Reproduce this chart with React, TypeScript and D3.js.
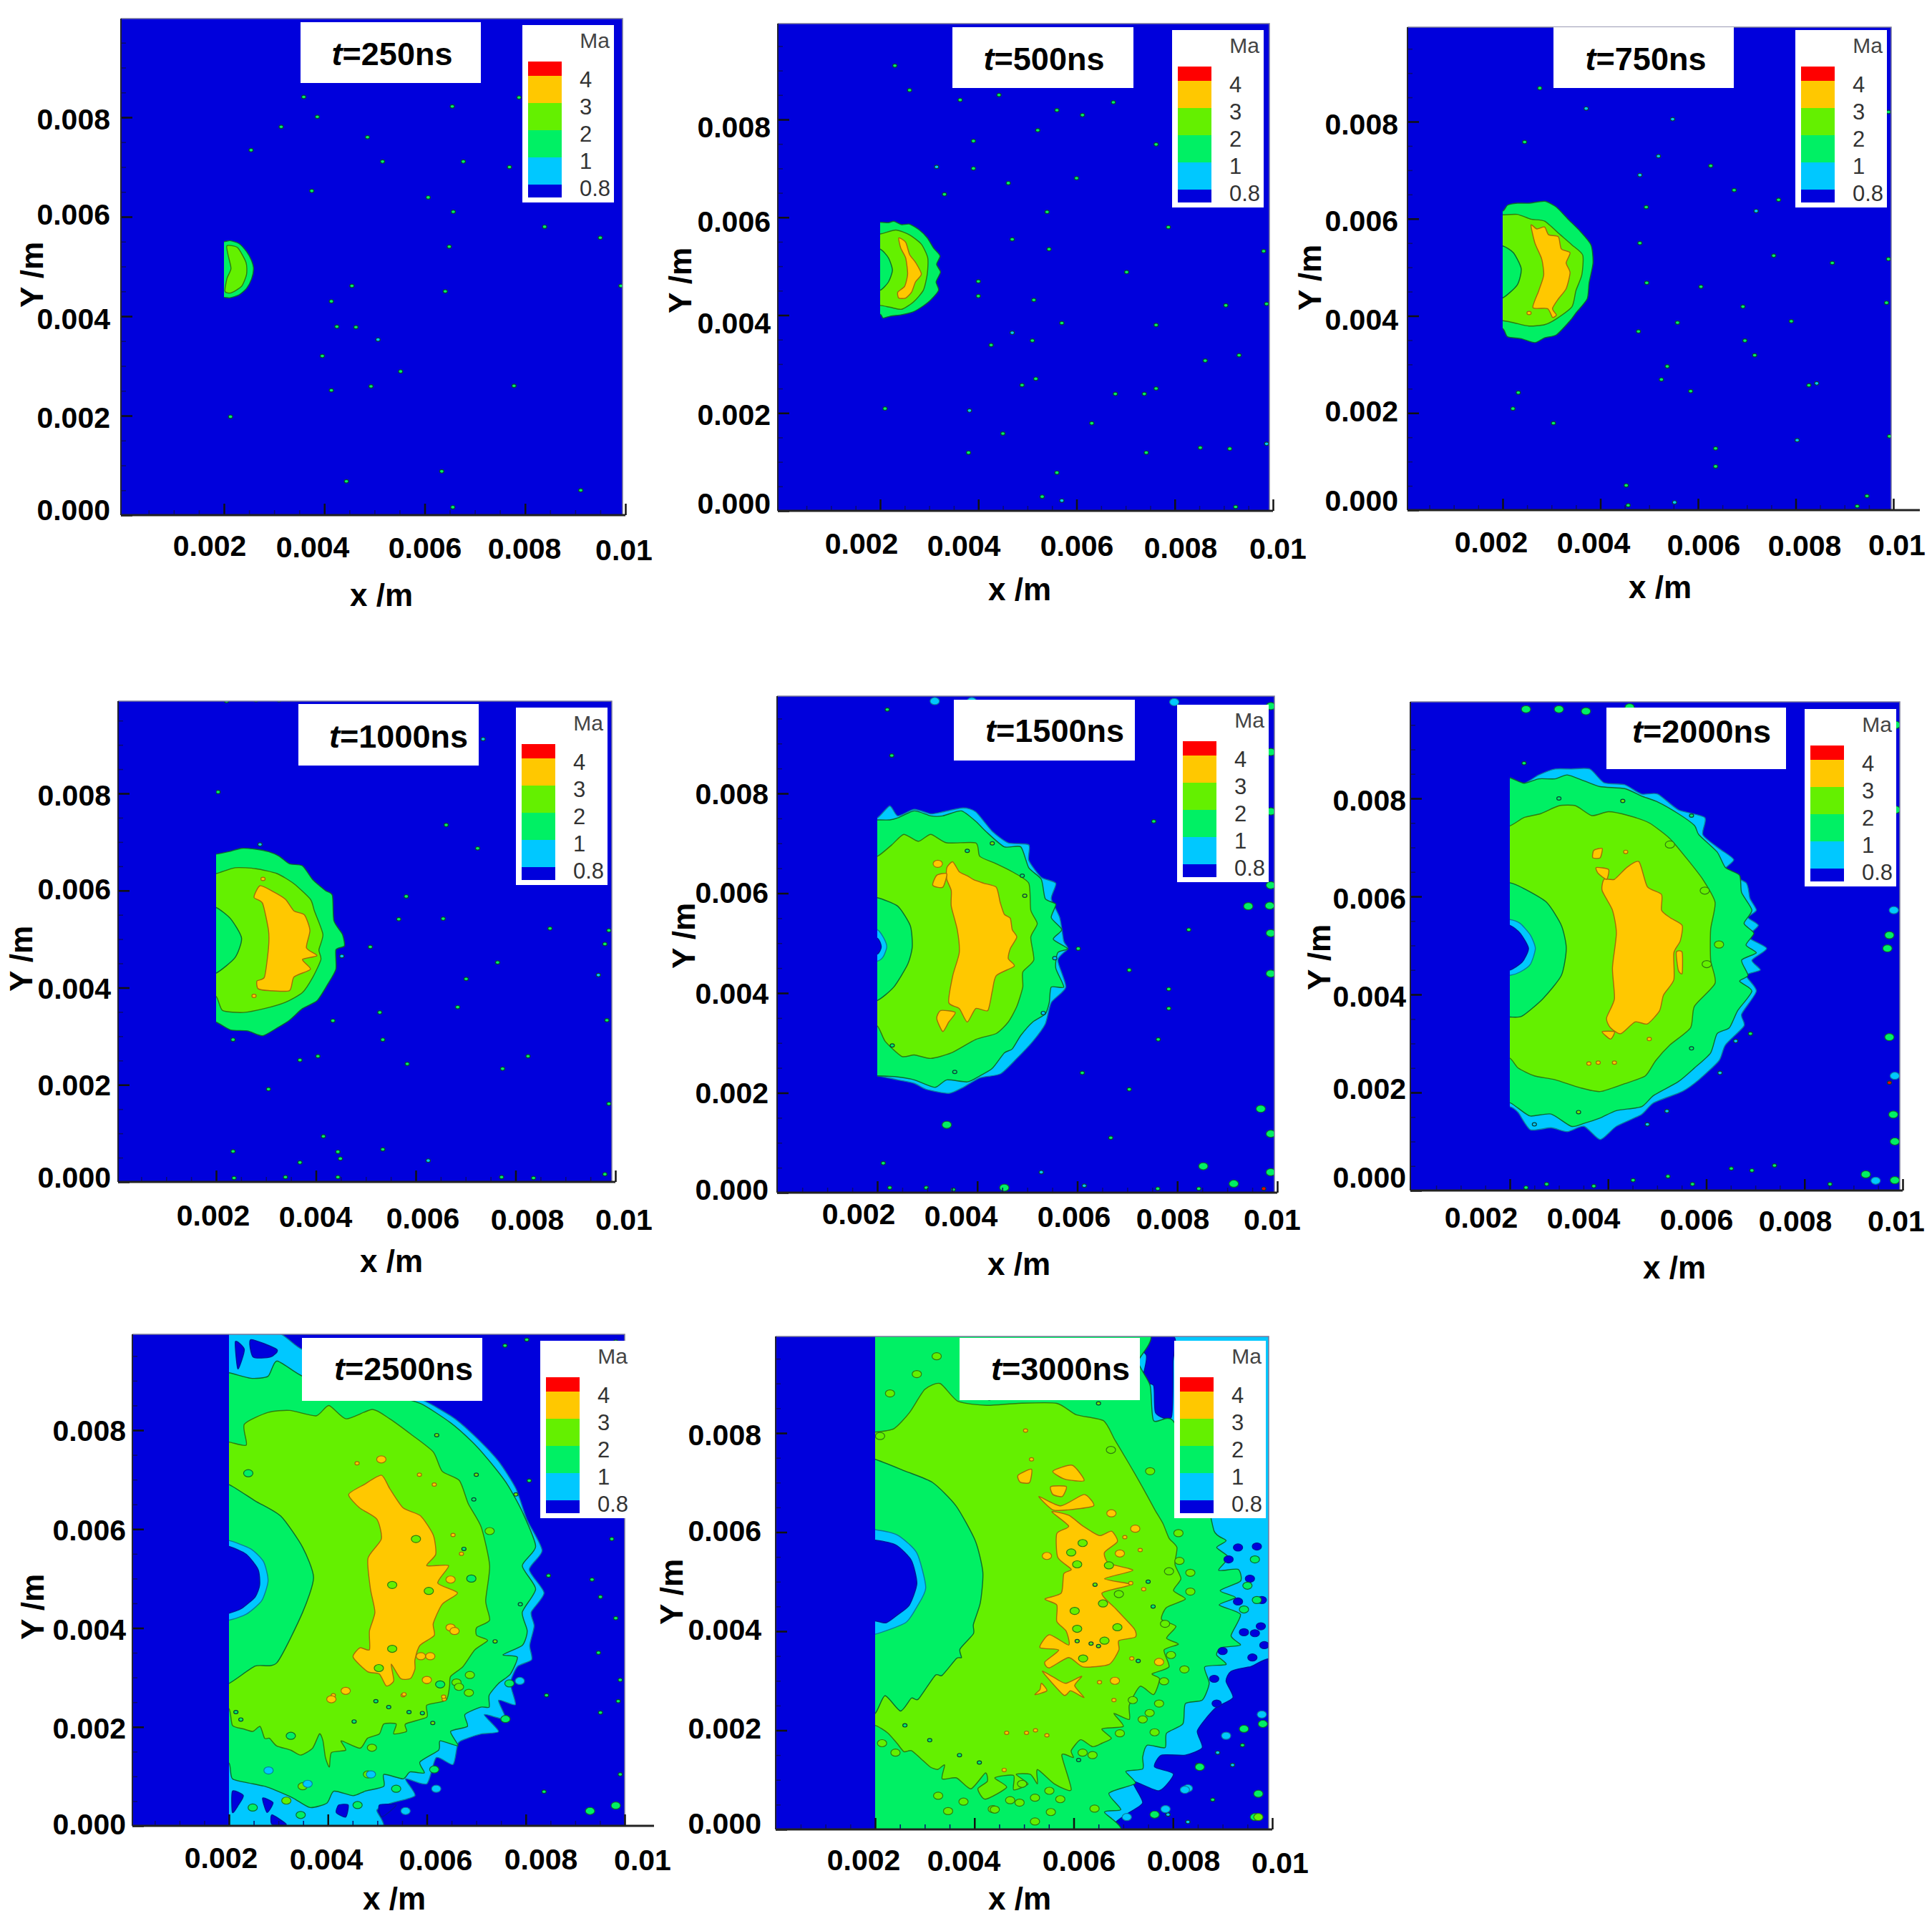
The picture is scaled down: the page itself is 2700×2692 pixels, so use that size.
import React, { useEffect, useRef } from 'react';
import * as d3 from 'd3';

type Pt = number[];
type Region = [number, Pt[]];

// Ma bands, index 0 is the free-stream blue
const maColors = ['#0000dc', '#00c8ff', '#00f064', '#64f000', '#ffc800', '#ff0000'];
const maStrokes = ['#00149a', '#0a7f9a', '#0c6a2c', '#2f7a10', '#a36c08', '#a00000'];
const legendLabels = ['4', '3', '2', '1', '0.8'];
const xTickValues = [0.002, 0.004, 0.006, 0.008, 0.01];
const xTickLabels = ['0.002', '0.004', '0.006', '0.008', '0.01'];
const yTickValues = [0, 0.002, 0.004, 0.006, 0.008];
const yTickLabels = ['0.000', '0.002', '0.004', '0.006', '0.008'];
const xMinorValues = [0.0005, 0.001, 0.0015, 0.0025, 0.003, 0.0035, 0.0045, 0.005, 0.0055, 0.0065, 0.007, 0.0075, 0.0085, 0.009, 0.0095];
const yMinorValues = [0.0005, 0.001, 0.0015, 0.0025, 0.003, 0.0035, 0.0045, 0.005, 0.0055, 0.0065, 0.007, 0.0075, 0.0085, 0.009, 0.0095];

// contour regions in mm, level is the index into maColors, painted in order
const regions250: Region[] = [
  [2, [[2, 5.5], [2.12, 5.52], [2.3, 5.46], [2.45, 5.3], [2.55, 5.12], [2.59, 4.95], [2.55, 4.75], [2.45, 4.56], [2.3, 4.43], [2.12, 4.37], [2, 4.38]]],
  [3, [[2.06, 5.42], [2.27, 5.38], [2.44, 5.08], [2.45, 4.84], [2.35, 4.6], [2.14, 4.47], [2.02, 4.5], [2.06, 4.76], [2.14, 4.96], [2.08, 5.24]]],
];
const specks250: Pt[] = [[3.59, 8.41], [3.86, 8.01], [3.14, 7.81], [4.86, 7.6], [5.16, 7.11], [6.77, 7.11], [7.69, 7], [7.88, 8.4], [6.55, 8.22], [6.07, 6.39], [6.57, 6.1], [8.39, 5.8], [9.5, 5.58], [6.49, 5.4], [6.41, 4.5], [9.91, 4.61], [4.55, 4.61], [4.14, 4.3], [4.25, 3.79], [4.63, 3.78], [5.07, 3.53, 1], [3.96, 3.2], [5.52, 2.89], [4.93, 2.59], [4.14, 2.51], [7.78, 2.6], [2.13, 1.98], [6.34, 0.88], [6.56, 0.16], [9.11, 0.5], [4.44, 0.68], [3.75, 6.52], [2.54, 7.34]];

const regions500: Region[] = [
  [2, [[2, 5.9], [2.17, 5.89], [2.28, 5.92], [2.44, 5.85], [2.6, 5.86], [2.8, 5.74], [2.96, 5.58], [3.09, 5.37], [3.22, 5.21], [3.15, 5.04], [3.23, 4.88], [3.14, 4.68], [3.19, 4.51], [3.03, 4.31], [2.88, 4.19], [2.68, 4.07], [2.44, 4.01], [2.21, 3.98], [2.06, 3.94], [2, 4.02]]],
  [3, [[2, 5.66], [2.32, 5.74], [2.6, 5.64], [2.84, 5.45], [2.97, 5.17], [2.96, 4.84], [2.88, 4.51], [2.68, 4.27], [2.44, 4.12], [2.21, 4.16], [2, 4.2]]],
  [2, [[2, 5.35], [2.17, 5.17], [2.25, 4.92], [2.17, 4.68], [2, 4.51]]],
  [4, [[2.38, 5.58], [2.52, 5.49], [2.6, 5.24], [2.72, 5.08], [2.84, 4.84], [2.72, 4.68], [2.64, 4.47], [2.52, 4.35], [2.38, 4.35], [2.36, 4.47], [2.5, 4.59], [2.56, 4.84], [2.52, 5.17], [2.42, 5.37]]],
];
const specks500: Pt[] = [[2.6, 8.6], [2.3, 9.1], [3.63, 8.4], [4.42, 8.5], [6.75, 8.35], [5.6, 8.19], [6.12, 8.09], [5.21, 7.78], [3.9, 7.56], [3.15, 7.03, 1], [3.9, 7], [3.31, 6.47], [4.61, 6.7], [6, 6.8], [5.4, 6.11], [4.69, 5.55], [5.44, 5.35], [4, 4.69], [4, 4.39], [5.13, 4.31], [5.7, 3.84], [4.69, 3.64, 1], [5.1, 3.48], [4.26, 3.39], [7.62, 3.8], [8.62, 3.07], [7.38, 2.39], [7.62, 2.5], [6.79, 2.39], [5.17, 2.7], [4.89, 2.57], [3.82, 2.05, 1], [2.1, 2.09], [6.31, 1.79], [4.5, 1.58], [3.8, 1.19], [7.42, 1.19], [8.52, 1.29], [9.12, 1.27], [5.6, 0.78], [9.87, 4.23], [9.87, 1.37, 1], [9.24, 0.08], [5.7, 0.21, 1], [5.3, 0.29], [7.02, 4.88], [7.87, 5.8], [7.62, 7.49], [9.81, 5.31], [9.04, 4.2], [9.31, 3.18]];

const regions750: Region[] = [
  [2, [[2, 6.16], [2.1, 6.28], [2.3, 6.32], [2.54, 6.32], [2.86, 6.36], [3.1, 6.24], [3.34, 5.99], [3.58, 5.75], [3.81, 5.46], [3.85, 5.09], [3.77, 4.68], [3.73, 4.35], [3.5, 4.06], [3.38, 3.9], [3.1, 3.61], [2.86, 3.55], [2.66, 3.45], [2.38, 3.53], [2.1, 3.57], [2, 3.74]]],
  [3, [[2, 6.08], [2.3, 6.09], [2.58, 5.99], [2.86, 5.95], [3.18, 5.67], [3.42, 5.46], [3.64, 5.25], [3.62, 4.84], [3.5, 4.52], [3.42, 4.19], [3.1, 3.94], [2.86, 3.82], [2.54, 3.79], [2.22, 3.86], [2, 3.9]]],
  [2, [[2, 5.44], [2.22, 5.3], [2.38, 4.97], [2.3, 4.64], [2, 4.37]]],
  [4, [[2.58, 5.87], [2.7, 5.79], [2.86, 5.83], [2.94, 5.67], [3.14, 5.63], [3.2, 5.38], [3.38, 5.3], [3.3, 5.09], [3.38, 4.89], [3.3, 4.56], [3.14, 4.35], [3.02, 4.15], [3.1, 4.02], [3.02, 3.97], [2.92, 4.15], [2.62, 4.17], [2.74, 4.52], [2.84, 4.84], [2.8, 5.17], [2.66, 5.5]]],
];
const specks750: Pt[] = [[3.71, 8.27, 1], [5.48, 8.05, 1], [2.76, 8.69], [2.45, 7.58], [5.19, 7.29, 1], [4.81, 6.9, 1], [6.74, 6.59], [7.65, 6.39], [7.19, 6.16, 1], [4.94, 6.24], [4.81, 5.5], [4.95, 4.68], [7.55, 5.24], [8.75, 5.09], [6.06, 4.6], [5.58, 3.86], [4.78, 3.68], [6.96, 3.49], [7.16, 3.19], [7.91, 3.89], [5.37, 2.96], [5.25, 2.69], [5.85, 2.45], [8.43, 2.61, 1], [8.27, 2.57], [2.32, 2.42], [2.21, 2.09], [3.04, 1.79], [6.36, 1.27], [6.36, 0.9], [8.03, 1.44, 1], [4.53, 0.51], [4.57, 0.1], [5.52, 0.16, 1], [9.26, 0.08], [9.46, 0.29], [6.26, 7.09], [6.92, 4.19], [9.9, 8.2], [9.9, 5.17], [9.86, 4.27], [9.92, 1.52], [2.54, 4.06, 4]];

const regions1000: Region[] = [
  [2, [[2, 6.75], [2.29, 6.81], [2.51, 6.87], [2.8, 6.85], [3.05, 6.8], [3.26, 6.71], [3.47, 6.55], [3.73, 6.51], [3.94, 6.22], [4.19, 6], [4.33, 5.9], [4.36, 5.38], [4.53, 5.1], [4.57, 4.86], [4.4, 4.78], [4.4, 4.38], [4.23, 4.06], [4.02, 3.73], [3.73, 3.57], [3.47, 3.33], [3.22, 3.17], [2.93, 3.01], [2.63, 3.11], [2.29, 3.13], [2, 3.29]]],
  [3, [[2, 6.35], [2.38, 6.47], [2.8, 6.45], [3.22, 6.35], [3.56, 6.14], [3.89, 5.82], [3.97, 5.58], [4.14, 5.1], [4.06, 4.78], [4.1, 4.58], [3.94, 4.22], [3.73, 3.9], [3.39, 3.7], [2.97, 3.57], [2.55, 3.49], [2.13, 3.53], [2, 3.82]]],
  [2, [[2, 5.65], [2.29, 5.42], [2.51, 5.02], [2.38, 4.62], [2, 4.3]]],
  [4, [[2.88, 6.1], [3.14, 5.98], [3.39, 5.82], [3.56, 5.58], [3.77, 5.5], [3.88, 5.18], [3.81, 4.82], [4.02, 4.66], [3.73, 4.58], [3.89, 4.38], [3.56, 4.22], [3.47, 3.94], [3.05, 3.94], [2.84, 3.98], [2.82, 4.14], [2.97, 4.22], [3.05, 4.82], [3.05, 5.18], [2.93, 5.74], [2.76, 5.86]]],
];
const specks1000: Pt[] = [[2.88, 6.95, 1], [7.35, 9.12, 1], [2.04, 8.03], [6.61, 7.35], [7.24, 6.87], [5.81, 5.88], [5.66, 5.41], [6.55, 5.42], [8.69, 5.22], [5.09, 4.84], [7.64, 4.52], [7.01, 4.18], [9.66, 4.26, 1], [6.84, 3.6], [5.28, 3.49], [4.34, 3.32], [2.34, 2.93], [5.34, 2.93], [8.25, 2.59], [3.68, 2.51], [4.04, 2.59], [5.83, 2.43], [7.74, 2.33], [3.05, 1.91], [4.15, 0.94], [2.34, 0.63], [4.44, 0.62], [5.34, 0.67], [6.25, 0.44, 1], [3.68, 0.4], [4.49, 0.48], [2.36, 0.08], [3.39, 0.1], [4.44, 0.1], [7.72, 0.1], [8.36, 0.08], [9.79, 0.16], [2.21, 9.9], [2.8, 9.92], [3.26, 9.92], [9.83, 3.33], [9.87, 1.61], [9.87, 5.18], [9.79, 4.9], [2.76, 3.83, 4], [2.94, 6.24, 4], [4.52, 4.65, 1]];

const regions1500: Region[] = [
  [1, [[2, 7.51], [2.25, 7.75], [2.41, 7.55], [2.74, 7.68], [3.07, 7.59], [3.31, 7.63], [3.72, 7.71], [3.97, 7.63], [4.3, 7.24], [4.62, 7.01], [5.03, 6.97], [5.03, 6.66], [5.28, 6.32], [5.57, 6.2], [5.48, 5.89], [5.65, 5.51], [5.73, 5.04], [5.81, 4.89], [5.61, 4.66], [5.77, 4.12], [5.48, 3.81], [5.36, 3.38], [5.11, 3.03], [4.79, 2.69], [4.46, 2.38], [4.05, 2.3], [3.72, 2.11], [3.43, 1.99], [2.98, 2.07], [2.74, 2.19], [2.41, 2.26], [2, 2.34]]],
  [2, [[2, 7.47], [2.25, 7.47], [2.41, 7.51], [2.74, 7.65], [3.07, 7.55], [3.31, 7.55], [3.68, 7.65], [3.97, 7.44], [4.17, 7.24], [4.54, 6.93], [4.87, 6.93], [5.03, 6.51], [5.28, 6.28], [5.36, 5.89], [5.57, 5.78], [5.48, 5.51], [5.69, 5.27], [5.52, 5.08], [5.81, 4.89], [5.61, 4.81], [5.57, 4.5], [5.73, 4.12], [5.48, 4.12], [5.44, 3.81], [5.36, 3.58], [5.11, 3.42], [4.87, 3.15], [4.7, 2.88], [4.54, 2.8], [4.3, 2.49], [4.05, 2.34], [3.8, 2.22], [3.39, 2.26], [3.15, 2.11], [2.74, 2.26], [2.41, 2.32], [2, 2.34]]],
  [3, [[2, 6.74], [2.29, 6.97], [2.53, 7.18], [2.82, 7.04], [3.07, 7.18], [3.39, 7.01], [3.97, 7.01], [4.05, 6.74], [4.38, 6.59], [4.7, 6.43], [5.03, 6.2], [5.07, 5.66], [5.2, 5.39], [5.07, 5.12], [5.13, 4.66], [4.91, 4.42], [4.91, 4.12], [4.79, 3.73], [4.62, 3.42], [4.38, 3.19], [3.97, 3.07], [3.48, 2.8], [3.07, 2.69], [2.74, 2.76], [2.49, 2.73], [2.16, 3.03], [2, 3.34]]],
  [2, [[2, 5.91], [2.41, 5.74], [2.66, 5.35], [2.7, 4.93], [2.61, 4.58], [2.33, 4.12], [2, 3.85]]],
  [1, [[2, 5.27], [2.12, 5.12], [2.19, 4.93], [2.12, 4.73], [2, 4.64]]],
  [0, [[2, 5.1], [2.08, 4.93], [2, 4.78]]],
  [4, [[3.39, 6.51], [3.51, 6.63], [3.64, 6.43], [3.8, 6.35], [3.93, 6.27], [4.13, 6.2], [4.38, 6.12], [4.46, 5.81], [4.54, 5.58], [4.66, 5.5], [4.7, 5.27], [4.79, 5.12], [4.66, 4.89], [4.62, 4.69], [4.74, 4.54], [4.38, 4.35], [4.3, 4.04], [4.21, 3.65], [3.97, 3.69], [3.8, 3.42], [3.64, 3.69], [3.43, 3.81], [3.51, 4.35], [3.64, 4.81], [3.6, 5.27], [3.48, 5.74], [3.48, 6.05], [3.39, 6.28]]],
  [4, [[3.27, 3.65], [3.56, 3.61], [3.43, 3.42], [3.31, 3.23], [3.19, 3.49]]],
  [4, [[3.19, 6.36], [3.39, 6.39], [3.31, 6.12], [3.11, 6.16]]],
];
const specks1500: Pt[] = [[7.04, 4.46], [8.23, 5.27], [7.83, 4.08], [7.62, 3.07], [7.83, 3.69], [7.04, 2.07], [6.67, 1.1], [6.02, 4.89], [2.29, 8.76], [2.2, 9.68], [7.53, 7.44], [2.12, 0.59], [6.1, 2.4], [5.28, 0.41, 1], [2.98, 0.1], [2.25, 0.1], [3.52, 0.06], [6.14, 0.14, 1], [7.61, 0.08], [8.43, 0.08], [9.73, 0.08, 5], [5.55, 4.7, 1], [5.32, 3.6, 1], [4.3, 7.0, 3], [4.95, 5.95, 3], [4.9, 6.35, 2], [3.8, 6.85, 2], [2.3, 2.95, 2], [3.55, 2.42, 2]];
const islands1500: Pt[] = [[3.21, 6.59, 4], [9.42, 5.74], [9.85, 5.75], [9.87, 5.2], [9.87, 4.39], [9.67, 1.68], [9.87, 1.18], [9.13, 0.18], [9.87, 0.41], [8.52, 0.53], [4.54, 0.1], [9.87, 8.83], [9.87, 7.64], [9.87, 6.16], [3.15, 9.85, 1], [3.89, 9.85, 1], [7.94, 9.83, 1], [9.87, 9.75], [3.39, 1.36]];

const regions2000: Region[] = [
  [1, [[2, 8.42], [2.29, 8.31], [2.59, 8.48], [2.92, 8.6], [3.25, 8.6], [3.63, 8.6], [3.92, 8.32], [4.34, 8.28], [4.68, 8.09], [5.01, 8.09], [5.43, 7.77], [5.97, 7.61], [5.93, 7.26], [6.26, 6.98], [6.56, 6.75], [6.35, 6.51], [6.81, 6.28], [6.89, 5.96], [7.02, 5.72], [6.85, 5.57], [7.06, 5.41], [6.85, 5.17], [7.23, 4.94], [6.93, 4.7], [7.1, 4.5], [6.81, 4.39], [7.02, 4.07], [6.72, 3.6], [6.77, 3.36], [6.39, 2.97], [6.26, 2.65], [5.85, 2.26], [5.51, 2.02], [4.93, 1.79], [4.68, 1.55], [4.17, 1.31], [3.84, 1.04], [3.51, 1.31], [3.17, 1.2], [2.84, 1.28], [2.42, 1.24], [2.17, 1.59], [2, 1.71]]],
  [2, [[2, 8.42], [2.29, 8.31], [2.59, 8.4], [2.92, 8.4], [3.17, 8.48], [3.51, 8.36], [3.84, 8.24], [4.34, 8.2], [4.68, 8.05], [5.01, 7.93], [5.43, 7.69], [5.76, 7.45], [5.85, 7.26], [6.22, 6.91], [6.39, 6.59], [6.68, 6.43], [6.72, 6.08], [6.93, 5.72], [6.77, 5.45], [6.97, 5.25], [6.81, 5.01], [7.02, 4.85], [6.72, 4.7], [6.85, 4.39], [6.68, 4.27], [6.93, 4.07], [6.64, 3.67], [6.47, 3.32], [6.22, 3.2], [6.09, 2.81], [5.76, 2.5], [5.43, 2.22], [4.93, 1.94], [4.68, 1.71], [4.17, 1.63], [3.84, 1.48], [3.51, 1.37], [3.25, 1.31], [2.84, 1.56], [2.42, 1.52], [2.17, 1.68], [2, 1.79]]],
  [3, [[2, 7.44], [2.29, 7.61], [2.63, 7.69], [3, 7.85], [3.34, 7.85], [3.67, 7.65], [4.01, 7.73], [4.42, 7.65], [4.84, 7.5], [5.26, 7.18], [5.59, 6.79], [5.93, 6.35], [6.18, 5.88], [6.09, 5.33], [6.09, 4.7], [6.18, 4.23], [5.76, 3.76], [5.68, 3.32], [5.26, 2.97], [4.97, 2.65], [4.76, 2.34], [4.34, 2.18], [3.84, 2.02], [3.42, 2.1], [2.92, 2.26], [2.5, 2.34], [2.17, 2.5], [2, 2.7]]],
  [2, [[2, 6.28], [2.29, 6.16], [2.75, 5.88], [3.05, 5.41], [3.15, 4.94], [3.05, 4.39], [2.67, 3.91], [2.25, 3.56], [2, 3.54]]],
  [1, [[2, 5.53], [2.21, 5.45], [2.42, 5.21], [2.52, 4.94], [2.42, 4.62], [2.21, 4.46], [2, 4.39]]],
  [0, [[2, 5.41], [2.21, 5.25], [2.38, 4.94], [2.25, 4.66], [2, 4.5]]],
  [4, [[3.92, 6.35], [4.13, 6.35], [4.38, 6.59], [4.63, 6.71], [4.8, 6.2], [5.09, 6.04], [5.09, 5.72], [5.26, 5.57], [5.51, 5.41], [5.47, 5.09], [5.34, 4.85], [5.34, 4.3], [5.13, 3.99], [5.05, 3.67], [4.8, 3.4], [4.55, 3.44], [4.26, 3.2], [4.05, 3.32], [3.97, 3.52], [4.13, 3.91], [4.09, 4.54], [4.17, 5.25], [4.09, 5.72], [3.88, 6.12]]],
  [4, [[3.71, 6.94], [3.88, 6.98], [3.84, 6.79], [3.69, 6.79]]],
  [4, [[3.76, 6.59], [4.01, 6.55], [3.97, 6.35], [3.8, 6.47]]],
  [4, [[3.88, 3.24], [4.13, 3.24], [4.05, 3.09]]],
  [4, [[5.39, 4.86], [5.51, 4.86], [5.51, 4.43], [5.43, 4.5]]],
];
const specks2000: Pt[] = [[3.61, 2.59, 4], [3.8, 2.61, 4], [7.39, 0.51], [6.51, 0.45], [6.93, 0.41], [2.29, 8.72], [4.36, 6.91, 4], [4.84, 3.09, 4], [4.13, 2.61, 4], [9.73, 2.2, 5], [2.33, 0.06], [3.71, 0.09], [2.75, 0.13], [4.51, 0.21], [5.72, 0.13], [8.52, 0.13], [5.22, 0.29], [6.6, 3.05, 1], [6.9, 3.2, 2], [3.0, 8.0, 2], [4.3, 7.95, 3], [5.7, 7.65, 2], [3.4, 1.6, 3], [2.5, 1.35, 1], [5.7, 2.9, 2], [6.28, 2.4, 1], [5.2, 1.62, 1], [4.8, 1.35, 1]];
const islands2000: Pt[] = [[6.26, 5.02, 3], [6.01, 4.62, 3], [5.97, 6.12, 3], [5.26, 7.06, 3], [9.82, 5.72, 1], [9.73, 5.21], [9.69, 4.94], [9.73, 3.13], [9.84, 2.34, 1], [9.81, 1.55], [9.84, 1], [9.25, 0.33], [9.84, 0.21], [2.33, 9.82], [3, 9.82], [3.55, 9.78], [4.44, 9.86], [9.86, 9.5], [9.86, 7.77], [9.45, 0.2, 1]];

const regions2500: Region[] = [
  [1, [[2, 9.98], [2.97, 9.98], [3.49, 9.63], [4.37, 9.48], [5.25, 9.24], [5.78, 8.7], [6.13, 8.5], [6.57, 8.23], [7.01, 7.84], [7.45, 7.37], [7.8, 6.82], [8.02, 6.2], [8.33, 5.57], [8.07, 5.18], [8.37, 4.71], [8.11, 4.32], [8.17, 4.04], [8.08, 3.65], [8.12, 3.36], [7.83, 3.22], [7.69, 2.88], [7.79, 2.45], [7.45, 2.54], [7.59, 2.16], [7.16, 2.25], [7.45, 1.91], [7.11, 1.86], [6.82, 1.77], [6.63, 1.67], [6.53, 1.24], [6.19, 1.38], [6, 0.85], [5.57, 0.95], [5.76, 0.61], [5.28, 0.46], [4.99, 0.32], [4.99, -0.1], [2, -0.1]]],
  [0, [[2.44, 9.83], [2.97, 9.63], [2.84, 9.48], [2.49, 9.48]]],
  [0, [[2.13, 9.79], [2.31, 9.63], [2.18, 9.24]]],
  [0, [[2.07, 0.7], [2.29, 0.61], [2.19, 0.42], [2.07, 0.27]]],
  [0, [[2.68, 0.56], [2.89, 0.47], [2.77, 0.27]]],
  [0, [[4.22, 0.42], [4.41, 0.42], [4.36, 0.18], [4.17, 0.27]]],
  [0, [[5.04, 0.42], [5.38, 0.42], [5.09, 0.18]]],
  [0, [[2.87, 0.22], [3.16, 0.03], [2.87, 0.03]]],
  [2, [[2, 9.16], [2.44, 9.05], [2.79, 9.09], [2.97, 9.4], [3.49, 9.09], [4.37, 8.85], [5.25, 8.7], [5.87, 8.54], [6.48, 8.15], [6.92, 7.76], [7.27, 7.37], [7.63, 6.9], [7.93, 6.35], [8.2, 5.65], [7.93, 5.26], [8.2, 4.79], [7.93, 4.32], [8.03, 3.94], [7.93, 3.65], [7.54, 3.46], [7.83, 3.41], [7.69, 3.07], [7.45, 2.88], [7.26, 2.64], [7.26, 2.4], [7.09, 2.4], [6.77, 2.25], [6.82, 2.01], [6.48, 1.91], [6.63, 1.62], [6.27, 1.72], [6.24, 1.53], [5.86, 1.29], [5.95, 1.07], [5.66, 1.09], [5.52, 0.95], [5.13, 1.04], [5.13, 0.8], [4.75, 0.7], [4.51, 0.61], [4.12, 0.7], [3.98, 0.46], [3.64, 0.37], [3.3, 0.56], [2.96, 0.71], [2.72, 0.8], [2.48, 0.85], [2.07, 0.95], [2, 1.27]]],
  [3, [[2, 7.76], [2.35, 7.7], [2.31, 8.12], [2.79, 8.36], [3.23, 8.4], [3.76, 8.29], [4.02, 8.5], [4.37, 8.23], [4.9, 8.42], [5.25, 8.23], [5.69, 7.91], [6.13, 7.56], [6.31, 7.17], [6.66, 6.98], [6.84, 6.51], [7.1, 6.04], [7.27, 5.26], [7.19, 4.55], [7.27, 4.16], [7.01, 4.01], [7.01, 3.85], [7.23, 3.75], [6.97, 3.56], [6.73, 3.22], [6.48, 3.02], [6.46, 2.83], [6.39, 2.54], [6, 2.44], [6, 2.2], [5.57, 2.06], [5.59, 1.91], [5.33, 1.86], [5.38, 2.06], [5.13, 2.06], [5.04, 1.86], [4.8, 1.77], [4.65, 1.57], [4.27, 1.72], [4.36, 1.53], [4.07, 1.48], [4.03, 1.19], [3.95, 1.38], [3.9, 1.72], [3.83, 1.86], [3.69, 1.57], [3.45, 1.43], [3.25, 1.53], [2.96, 1.62], [2.82, 1.77], [2.72, 1.77], [2.63, 2.01], [2.48, 1.91], [2.29, 1.96], [2.07, 2.03], [2, 2.37]]],
  [2, [[2, 6.9], [2.53, 6.57], [3.05, 6.26], [3.49, 5.63], [3.71, 5.02], [3.49, 4.32], [2.97, 3.3], [2.53, 3.23], [2, 2.88]]],
  [1, [[2, 5.77], [2.44, 5.6], [2.7, 5.34], [2.79, 4.95], [2.66, 4.55], [2.35, 4.28], [2, 4.16]]],
  [0, [[2, 5.65], [2.35, 5.49], [2.59, 5.18], [2.62, 4.87], [2.53, 4.63], [2.26, 4.4], [2, 4.3]]],
  [4, [[4.42, 6.7], [4.73, 6.9], [5.08, 7.09], [5.25, 6.82], [5.52, 6.43], [5.87, 6.27], [6.13, 5.88], [6.18, 5.49], [6, 5.26], [6.44, 5.26], [6.22, 4.91], [6.62, 4.71], [6.31, 4.48], [6.13, 4.09], [6.15, 3.85], [5.86, 3.65], [5.76, 3.36], [5.76, 3.17], [5.67, 2.98], [5.47, 2.98], [5.28, 3.27], [5.33, 2.93], [5.18, 2.83], [5.04, 3.07], [4.8, 3.12], [4.51, 3.41], [4.65, 3.6], [4.84, 3.56], [4.84, 3.94], [4.95, 4.32], [4.86, 4.79], [4.81, 5.41], [5.08, 5.8], [4.99, 6.2], [4.64, 6.43]]],
];
const specks2500: Pt[] = [[9.47, 3.5], [9.51, 4.63], [9.82, 4.2], [9.34, 4.98], [8.46, 5.06], [8.37, 0.69], [9.74, 5.8], [8.07, 6.98], [7.58, 9.71], [8.02, 9.83], [9.82, 9.79], [9.51, 2.29], [9.87, 2.52], [9.91, 2.95], [8.42, 2.64], [9.91, 1.04], [7.89, 4.48], [4.59, 7.33, 4], [4.33, 2.72, 4], [4.11, 2.64, 4], [6, 2.91, 4], [6.35, 2.56, 4], [5.52, 2.64, 4], [6.53, 5.88, 4], [6.7, 5.5, 4], [5.85, 7.1, 4], [6.15, 6.9, 4], [4.53, 2.11, 2], [5.23, 2.4, 2], [4.97, 2.52, 2], [2.14, 2.3, 2], [2.24, 2.15, 2], [5.64, 2.3, 2], [5.91, 2.28, 2], [5.54, 2.66, 4], [6.34, 2.61, 4], [7.38, 3.73, 3], [6.12, 2.08, 3], [7.8, 6.7, 3], [6.95, 6.6, 2], [7, 7.1, 3], [6.2, 7.9, 3], [3.6, 8.7, 3], [4.9, 8.8, 3], [6.75, 5.6, 2]];
const islands2500: Pt[] = [[5.78, 5.8, 3], [5.3, 4.87, 3], [6.04, 4.75, 3], [5.3, 3.58, 3], [5.03, 3.19, 3], [5.08, 7.41, 4], [6.48, 4.01, 4], [6.48, 4.98, 4], [2.39, 7.13, 2], [4.81, 1.04, 3], [3.49, 0.8, 3], [7.27, 5.96, 3], [9.3, 0.3], [9.82, 0.41], [6.6, 2.9, 3], [6.9, 5, 2], [6, 2.95, 4], [5.88, 3.43, 4], [6.07, 3.43, 4], [6.56, 3.94, 4], [4.36, 2.73, 4], [4.07, 2.56, 4], [6.87, 3.05, 3], [6.27, 2.86, 2], [6.65, 2.81, 3], [6.85, 2.69, 3], [4.89, 1.58, 3], [2.8, 1.12, 1], [3.59, 0.85, 1], [4.87, 1.04, 1], [3.16, 0.51, 3], [2.48, 0.37, 2], [3.45, 0.22, 2], [4.6, 0.42, 2], [5.38, 0.75, 2], [5.57, 0.3, 1], [6.15, 1.14, 2], [6.19, 0.75, 1], [7.59, 2.16, 2], [7.67, 2.88, 2], [7.88, 2.93, 1], [3.25, 1.82, 2]];

const regions3000: Region[] = [
  [1, [[1.8, 10.1], [10.1, 10.1], [10.1, -0.1], [1.8, -0.1]]],
  [0, [[6.95, 9.96], [8, 9.96], [8, 9.43], [7.97, 8.33], [7.65, 8.41], [7.61, 8.96], [7.38, 9.04], [7.46, 9.58]]],
  [0, [[10.1, 3.28], [9.55, 3.28], [9.17, 3.19], [9.07, 2.99], [9.21, 2.66], [8.88, 2.47], [8.69, 2.27], [8.49, 1.98], [8.59, 1.65], [8.25, 1.5], [7.77, 1.5], [7.63, 1.26], [8.01, 1.12], [7.72, 0.78], [7.19, 0.97], [7.39, 0.54], [7.05, 0.3], [6.81, 0.11], [6.81, -0.1], [10.1, -0.1]]],
  [2, [[1.8, 10.1], [7.3, 10.1], [7.3, 9.43], [7.54, 8.96], [7.61, 8.25], [8, 8.25], [8.6, 7], [8.83, 6.02], [9.07, 5.83], [8.88, 5.69], [9.12, 5.49], [8.92, 5.23], [9.31, 5.25], [9.36, 5.01], [8.95, 4.82], [9.26, 4.68], [8.93, 4.53], [9.36, 4.34], [9.17, 3.91], [9.36, 3.72], [8.97, 3.67], [8.88, 3.52], [9.07, 3.33], [8.64, 3.28], [8.73, 2.95], [8.59, 2.61], [8.25, 2.54], [8.2, 2.13], [7.87, 1.94], [7.84, 1.65], [7.48, 1.7], [7.39, 1.46], [7.39, 1.22], [7.05, 1.17], [7.24, 0.93], [6.71, 0.73], [6.95, 0.4], [6.62, 0.35], [6.76, -0.1], [1.8, -0.1]]],
  [3, [[2, 8.02], [2.38, 8.09], [2.69, 8.41], [3, 8.88], [3.31, 9], [3.67, 8.64], [4.25, 8.56], [4.88, 8.6], [5.66, 8.6], [6.05, 8.37], [6.6, 8.25], [6.83, 7.86], [7.11, 7.39], [7.38, 6.92], [7.63, 6.46], [7.8, 6.17], [7.92, 5.88], [8.08, 5.69], [8.04, 5.35], [8.16, 5.06], [8.01, 4.82], [8.25, 4.65], [7.87, 4.48], [7.77, 4.24], [8.06, 4.1], [7.87, 3.86], [8.11, 3.74], [7.82, 3.62], [7.92, 3.28], [7.58, 3.14], [7.73, 3.04], [7.61, 2.72], [7.34, 2.89], [7.12, 2.51], [7.12, 2.22], [6.81, 2.34], [7, 2.08], [6.57, 2.03], [6.76, 1.84], [6.57, 1.74], [6.38, 1.67], [6.14, 1.81], [5.95, 1.59], [5.99, 1.45], [5.76, 1.5], [5.95, 0.8], [5.61, 0.92], [5.27, 1.21], [5.27, 0.92], [5.13, 1.11], [4.84, 1.11], [5.08, 0.92], [4.79, 0.8], [4.79, 1.09], [4.41, 1.04], [4.65, 0.85], [4.22, 0.61], [4.07, 0.82], [4.26, 0.97], [4.22, 1.14], [3.93, 0.82], [3.64, 1.04], [3.35, 1.02], [3.4, 1.3], [3.26, 1.21], [3.11, 1.26], [2.92, 1.43], [2.73, 1.59], [2.58, 1.57], [2.44, 1.74], [2.25, 1.95], [2, 2.1]]],
  [2, [[2, 7.47], [2.61, 7.23], [3.16, 7], [3.63, 6.53], [4.02, 5.82], [4.17, 5.19], [4.12, 4.58], [3.98, 4.14], [3.98, 3.95], [3.71, 3.64], [3.74, 3.47], [3.64, 3.45], [3.35, 3.11], [3.21, 3.11], [2.87, 2.63], [2.73, 2.65], [2.51, 2.39], [2.2, 2.7], [2, 2.34]]],
  [1, [[2, 6.05], [2.45, 5.94], [2.84, 5.58], [3.02, 4.88], [2.84, 4.49], [2.61, 4.17], [2, 3.94]]],
  [0, [[2, 5.84], [2.42, 5.74], [2.73, 5.43], [2.84, 4.96], [2.69, 4.53], [2.45, 4.33], [2.22, 4.17], [2, 4.21]]],
  [4, [[5.56, 6.41], [5.9, 6.34], [6.19, 6.12], [6.52, 5.93], [6.76, 6.02], [6.88, 5.81], [6.62, 5.59], [6.71, 5.37], [7.19, 5.23], [6.62, 5.06], [7.15, 4.94], [6.57, 4.77], [6.86, 4.44], [7.22, 4.05], [7.24, 3.88], [6.91, 3.81], [6.91, 3.62], [6.71, 3.33], [6.19, 3.28], [5.9, 3.47], [5.51, 3.26], [5.42, 3.38], [5.7, 3.62], [5.32, 3.67], [5.51, 3.93], [5.9, 3.72], [5.85, 4], [5.66, 4.2], [5.66, 4.53], [5.42, 4.65], [5.75, 4.77], [5.8, 5.16], [5.95, 5.25], [5.68, 5.49], [5.66, 5.97], [5.9, 6.12]]],
  [4, [[5.58, 7.23], [5.97, 7.35], [6.21, 7.04], [5.82, 7.07]]],
  [4, [[5.3, 6.72], [5.74, 6.53], [6.21, 6.76], [6.4, 6.53], [5.89, 6.45], [5.58, 6.45]]],
  [4, [[5.54, 6.92], [5.85, 6.92], [5.77, 6.72], [5.58, 6.76]]],
  [4, [[5.37, 3.19], [5.8, 2.71], [5.94, 2.8], [6.21, 2.66], [6.02, 2.9], [6.16, 3.09], [5.85, 2.95], [5.68, 3.02]]],
  [4, [[5.22, 2.72], [5.46, 2.8], [5.35, 2.95], [5.32, 2.82]]],
  [4, [[4.88, 7.15], [5.15, 7.27], [5.11, 7], [4.92, 7.01]]],
];
const specks3000: Pt[] = [[5.03, 8.05, 4], [5.46, 1.9, 4], [5.15, 7.47, 4], [6.5, 8.6, 3], [5.9, 8.9, 3], [4.6, 1.2, 4], [6.1, 1.4, 2], [4.3, 8.7, 2], [5.23, 2.0, 4], [5.05, 1.95, 4], [4.65, 1.95, 4], [6.52, 2.97, 4], [6.81, 2.61, 4], [7.17, 3.45, 4], [7.41, 4.85, 4], [7.34, 5.64, 4], [7.03, 5.9, 4], [7.15, 4.97, 4], [6.43, 4.94, 3], [6.07, 3.8, 3], [6.35, 3.75, 3], [6.5, 3.7, 3], [7.3, 3.4, 2], [7.5, 5, 2], [7.6, 4.5, 2], [3.7, 1.5, 2], [3.1, 1.8, 2], [2.6, 2.1, 2], [4.1, 1.35, 2], [8.5, 1.3, 3], [8.8, 0.6, 2], [9.2, 1.3, 1], [9.4, 1.7, 2], [8.9, 1.55, 1], [7.9, 0.3, 1], [8.3, 0.15, 1]];
const islands3000: Pt[] = [[6.18, 5.78, 3], [5.95, 5.59, 3], [6.07, 5.35, 3], [6.71, 5.33, 3], [6.59, 4.56, 3], [6.02, 4.41, 3], [6.07, 4.05, 3], [6.88, 4.08, 3], [6.62, 3.81, 3], [6.19, 3.45, 3], [6.91, 4.75, 3], [5.46, 5.52, 4], [6.76, 6.38, 4], [6.93, 5.57, 4], [7.24, 6.07, 4], [6.83, 3, 4], [7.72, 3.38, 4], [2.84, 9.19, 3], [2.1, 7.94, 3], [2.3, 8.8, 3], [3.24, 9.55, 3], [2.14, 1.74, 3], [2.41, 1.55, 3], [3.78, 0.56, 3], [3.47, 0.37, 3], [4.37, 0.41, 3], [4.96, 0.92, 3], [3.27, 0.68, 3], [6.75, 7.66, 3], [7.54, 7.23, 3], [7.92, 5.21, 3], [8.35, 5.18, 3], [8.11, 5.98, 3], [8.13, 5.42, 3], [8.35, 4.8, 3], [7.84, 4.15, 3], [7.96, 3.52, 3], [8.23, 3.23, 3], [7.82, 2.99, 3], [7.72, 2.54, 3], [7.19, 2.61, 3], [7.39, 2.22, 3], [7.53, 2.35, 3], [7.63, 1.96, 3], [6.93, 1.94, 3], [6.38, 1.5, 3], [6.18, 1.55, 3], [5.51, 0.78, 3], [5.22, 0.64, 3], [4.91, 0.54, 3], [4.72, 0.59, 3], [4.41, 0.4, 3], [6.42, 0.42, 3], [5.73, 0.61, 3], [5.54, 0.35, 3], [5.22, 0.16, 3], [9.31, 5.69, 0], [9.69, 5.71, 0], [9.12, 5.45, 0], [9.55, 5.06, 0], [9.79, 4.63, 0], [9.31, 4.6, 0], [9.77, 4.1, 0], [9.65, 3.96, 0], [9.43, 3.98, 0], [9.84, 3.72, 0], [9.6, 3.47, 0], [9, 3.6, 0], [8.83, 3.04, 0], [8.88, 2.54, 0], [9.65, 5.45, 2], [9.5, 4.92, 2], [9.69, 4.63, 2], [9.43, 4.44, 2], [9.43, 2.03, 2], [9.81, 2.13, 2], [8.54, 1.26, 2], [9.65, 0.25, 2], [7.63, 0.3, 2], [9.79, 2.32, 1], [9.07, 1.89, 1], [8.3, 0.83, 1], [9.72, 0.72, 2], [9.72, 0.25, 3], [8.24, 0.8, 1], [7.85, 0.41, 1], [7.07, 0.25, 1], [8.5, 8.3, 1]];

// panel placement in page pixels, every panel of the original was pasted by hand
const panels = [
  { time: '250', regions: regions250, specks: specks250, islands: [] as Pt[], left: 169, right: 870, top: 26, x002: 313, x010: 874, y0: 720, y008: 164, axisEnd: 874,
    box: [420, 672, 31, 116], titleX: 548, titleY: 91, legend: [730, 35],
    xLab: [293, 437, 594, 733, 872], xBase: [777, 779, 780, 781, 783], yRight: 154, yMid: [713, 584, 446, 300, 167], xName: [533, 847], yName: [44, 384] },
  { time: '500', regions: regions500, specks: specks500, islands: [] as Pt[], left: 1087, right: 1774, top: 33, x002: 1230, x010: 1779, y0: 714, y008: 167, axisEnd: 1779,
    box: [1331, 1584, 38, 123], titleX: 1459, titleY: 98, legend: [1638, 42],
    xLab: [1204, 1347, 1505, 1650, 1786], xBase: [774, 777, 777, 780, 781], yRight: 1077, yMid: [704, 580, 452, 310, 178], xName: [1425, 839], yName: [950, 392] },
  { time: '750', regions: regions750, specks: specks750, islands: [] as Pt[], left: 1967, right: 2643, top: 38, x002: 2100, x010: 2646, y0: 713, y008: 170, axisEnd: 2683,
    box: [2171, 2423, 38, 123], titleX: 2300, titleY: 98, legend: [2509, 42],
    xLab: [2084, 2227, 2381, 2522, 2651], xBase: [772, 773, 776, 777, 776], yRight: 1954, yMid: [700, 575, 447, 309, 174], xName: [2320, 836], yName: [1830, 388] },
  { time: '1000', regions: regions1000, specks: specks1000, islands: [] as Pt[], left: 165, right: 855, top: 980, x002: 302, x010: 860, y0: 1652, y008: 1109, axisEnd: 860,
    box: [417, 669, 984, 1070], titleX: 557, titleY: 1045, legend: [721, 989],
    xLab: [298, 441, 591, 737, 872], xBase: [1713, 1715, 1717, 1719, 1719], yRight: 155, yMid: [1646, 1517, 1382, 1243, 1112], xName: [547, 1778], yName: [29, 1340] },
  { time: '1500', regions: regions1500, specks: specks1500, islands: islands1500, left: 1086, right: 1781, top: 973, x002: 1226, x010: 1785, y0: 1667, y008: 1109, axisEnd: 1785,
    box: [1333, 1586, 978, 1063], titleX: 1474, titleY: 1037, legend: [1645, 985],
    xLab: [1200, 1343, 1501, 1639, 1778], xBase: [1711, 1714, 1715, 1718, 1719], yRight: 1074, yMid: [1663, 1528, 1389, 1248, 1110], xName: [1424, 1782], yName: [955, 1308] },
  { time: '2000', regions: regions2000, specks: specks2000, islands: islands2000, left: 1971, right: 2655, top: 981, x002: 2110, x010: 2659, y0: 1664, y008: 1116, axisEnd: 2659,
    box: [2245, 2496, 989, 1075], titleX: 2378, titleY: 1038, legend: [2522, 991],
    xLab: [2070, 2213, 2371, 2509, 2650], xBase: [1716, 1717, 1719, 1721, 1721], yRight: 1965, yMid: [1646, 1522, 1393, 1256, 1119], xName: [2340, 1787], yName: [1843, 1338] },
  { time: '2500', regions: regions2500, specks: specks2500, islands: islands2500, left: 185, right: 873, top: 1865, x002: 320, x010: 873, y0: 2552, y008: 1999, axisEnd: 914,
    box: [422, 674, 1870, 1958], titleX: 564, titleY: 1929, legend: [755, 1874],
    xLab: [309, 456, 609, 756, 898], xBase: [2611, 2613, 2614, 2613, 2614], yRight: 176, yMid: [2550, 2416, 2278, 2139, 2000], xName: [551, 2669], yName: [45, 2246] },
  { time: '3000', regions: regions3000, specks: specks3000, islands: islands3000, left: 1084, right: 1773, top: 1868, x002: 1223, x010: 1778, y0: 2557, y008: 2003, axisEnd: 1778,
    box: [1341, 1593, 1870, 1957], titleX: 1482, titleY: 1929, legend: [1641, 1874],
    xLab: [1207, 1347, 1508, 1654, 1789], xBase: [2614, 2615, 2615, 2615, 2618], yRight: 1064, yMid: [2549, 2416, 2278, 2140, 2006], xName: [1425, 2669], yName: [938, 2225] },
];

const FONT = '"Liberation Sans", Arial, sans-serif';

// a contour that ends on the wall closes behind it, so the curve does not spike at the wall
const closeBehindWall = (pts: Pt[]) => {
  const first = pts[0];
  const last = pts[pts.length - 1];
  if (first[0] === 2 && last[0] === 2) return [...pts, [1.7, last[1]], [1.7, first[1]]];
  return pts;
};

const App = () => {
  const myRef = useRef<SVGSVGElement>(null);

  useEffect(() => {
    const svg = d3.select(myRef.current);
    svg.selectAll('*').remove();

    panels.forEach((p, i) => {
      const xScale = d3.scaleLinear().domain([0.002, 0.01]).range([p.x002, p.x010]);
      const yScale = d3.scaleLinear().domain([0, 0.008]).range([p.y0, p.y008]);
      const g = svg.append('g');

      // field background
      g.append('rect').attr('x', p.left).attr('y', p.top)
        .attr('width', p.right - p.left).attr('height', p.y0 - p.top)
        .attr('fill', maColors[0]);

      // regions stop at the wall at x = 2 mm and at the frame
      const clipId = `field-${i}`;
      g.append('clipPath').attr('id', clipId).append('rect')
        .attr('x', xScale(0.002)).attr('y', p.top)
        .attr('width', p.right - xScale(0.002)).attr('height', p.y0 - p.top);

      const contour = d3.line<Pt>()
        .x(d => xScale(d[0] * 1e-3))
        .y(d => yScale(d[1] * 1e-3))
        .curve(d3.curveCardinalClosed.tension(0.35));

      const field = g.append('g').attr('clip-path', `url(#${clipId})`);
      field.selectAll('path').data(p.regions).join('path')
        .attr('d', d => contour(closeBehindWall(d[1])))
        .attr('fill', d => maColors[d[0]])
        .attr('stroke', d => maStrokes[d[0]])
        .attr('stroke-width', 1.4)
        .attr('stroke-linejoin', 'round');

      const drawDots = (rows: Pt[], rx: number, ry: number, edge: (d: Pt) => string) => {
        field.append('g').selectAll('ellipse').data(rows).join('ellipse')
          .attr('cx', d => xScale(d[0] * 1e-3))
          .attr('cy', d => yScale(d[1] * 1e-3))
          .attr('rx', rx).attr('ry', ry)
          .attr('fill', d => maColors[d[2] ?? 2])
          .attr('stroke', edge)
          .attr('stroke-width', 1.2);
      };
      drawDots(p.specks, 3, 2.4, d => (d[2] === 4 ? maStrokes[4] : '#0a4038'));
      drawDots(p.islands, 6.5, 5, d => maStrokes[d[2] ?? 2]);

      // frame
      g.append('path')
        .attr('d', `M${p.left},${p.top}H${p.right}V${p.y0}`)
        .attr('fill', 'none').attr('stroke', '#7a7a9a').attr('stroke-width', 1.5);

      // axes, the labels are placed by hand below because they are offset from the ticks
      const xMajor = d3.axisBottom(xScale).tickValues(xTickValues).tickSizeInner(-16).tickSizeOuter(0).tickFormat(() => '');
      const xMinor = d3.axisBottom(xScale).tickValues(xMinorValues).tickSizeInner(-7).tickSizeOuter(0).tickFormat(() => '');
      const yMajor = d3.axisLeft(yScale).tickValues(yTickValues).tickSizeInner(-16).tickSizeOuter(0).tickFormat(() => '');
      const yMinor = d3.axisLeft(yScale).tickValues(yMinorValues).tickSizeInner(-7).tickSizeOuter(0).tickFormat(() => '');
      const addAxis = (axis: any, tx: number, ty: number, color: string, w: number) => {
        const a = g.append('g').attr('transform', `translate(${tx},${ty})`).call(axis);
        a.select('.domain').remove();
        a.selectAll('line').attr('stroke', color).attr('stroke-width', w);
      };
      addAxis(xMinor, 0, p.y0, '#0b0b70', 1.5);
      addAxis(yMinor, p.left, 0, '#0b0b70', 1.5);
      addAxis(xMajor, 0, p.y0, '#111', 2.5);
      addAxis(yMajor, p.left, 0, '#111', 2.5);

      g.append('line').attr('x1', p.left).attr('x2', p.axisEnd).attr('y1', p.y0).attr('y2', p.y0)
        .attr('stroke', '#222').attr('stroke-width', 3);
      g.append('line').attr('x1', p.left).attr('x2', p.left).attr('y1', p.top).attr('y2', p.y0)
        .attr('stroke', '#223').attr('stroke-width', 2);

      // tick labels
      g.append('g').selectAll('text').data(xTickLabels).join('text')
        .attr('x', (_, k) => p.xLab[k]).attr('y', (_, k) => p.xBase[k])
        .attr('text-anchor', 'middle').attr('font-family', FONT)
        .attr('font-weight', 700).attr('font-size', 41).attr('fill', '#000')
        .text(d => d);
      g.append('g').selectAll('text').data(yTickLabels).join('text')
        .attr('x', p.yRight).attr('y', (_, k) => p.yMid[k] + 14)
        .attr('text-anchor', 'end').attr('font-family', FONT)
        .attr('font-weight', 700).attr('font-size', 41).attr('fill', '#000')
        .text(d => d);

      // axis names
      g.append('text').attr('x', p.xName[0]).attr('y', p.xName[1])
        .attr('text-anchor', 'middle').attr('font-family', FONT)
        .attr('font-weight', 700).attr('font-size', 44).text('x /m');
      g.append('text')
        .attr('transform', `translate(${p.yName[0]},${p.yName[1]}) rotate(-90)`)
        .attr('text-anchor', 'middle').attr('dominant-baseline', 'central').attr('font-family', FONT)
        .attr('font-weight', 700).attr('font-size', 44).text('Y /m');

      // title box
      g.append('rect').attr('x', p.box[0]).attr('y', p.box[2])
        .attr('width', p.box[1] - p.box[0]).attr('height', p.box[3] - p.box[2])
        .attr('fill', '#fff');
      const title = g.append('text').attr('x', p.titleX).attr('y', p.titleY)
        .attr('text-anchor', 'middle').attr('font-family', FONT)
        .attr('font-weight', 700).attr('font-size', 45).attr('fill', '#000');
      title.append('tspan').attr('font-style', 'italic').text('t');
      title.append('tspan').text(`=${p.time}ns`);

      // legend
      const [lx, ly] = p.legend;
      const legend = g.append('g').attr('transform', `translate(${lx},${ly})`);
      legend.append('rect').attr('width', 128).attr('height', 248).attr('fill', '#fff');
      const bandTops = [51, 71, 109, 147, 185, 223];
      const bandBottoms = [71, 109, 147, 185, 223, 241];
      const bandLevels = [5, 4, 3, 2, 1, 0];
      legend.selectAll('rect.band').data(bandLevels).join('rect')
        .attr('class', 'band')
        .attr('x', 8).attr('width', 47)
        .attr('y', (_, k) => bandTops[k])
        .attr('height', (_, k) => bandBottoms[k] - bandTops[k])
        .attr('fill', d => maColors[d]);
      legend.append('text').attr('x', 122).attr('y', 32).attr('text-anchor', 'end')
        .attr('font-family', FONT).attr('font-size', 30).attr('fill', '#444').text('Ma');
      legend.selectAll('text.lab').data(legendLabels).join('text')
        .attr('class', 'lab')
        .attr('x', 80).attr('y', (_, k) => 87 + k * 38)
        .attr('font-family', FONT).attr('font-size', 31).attr('fill', '#333')
        .text(d => d);
    });
  }, []);

  return (
    <svg
      ref={myRef}
      width={2700}
      height={2692}
      style={{ position: 'absolute', left: 0, top: 0, background: '#fff', display: 'block' }}
    />
  );
};

export default App;
